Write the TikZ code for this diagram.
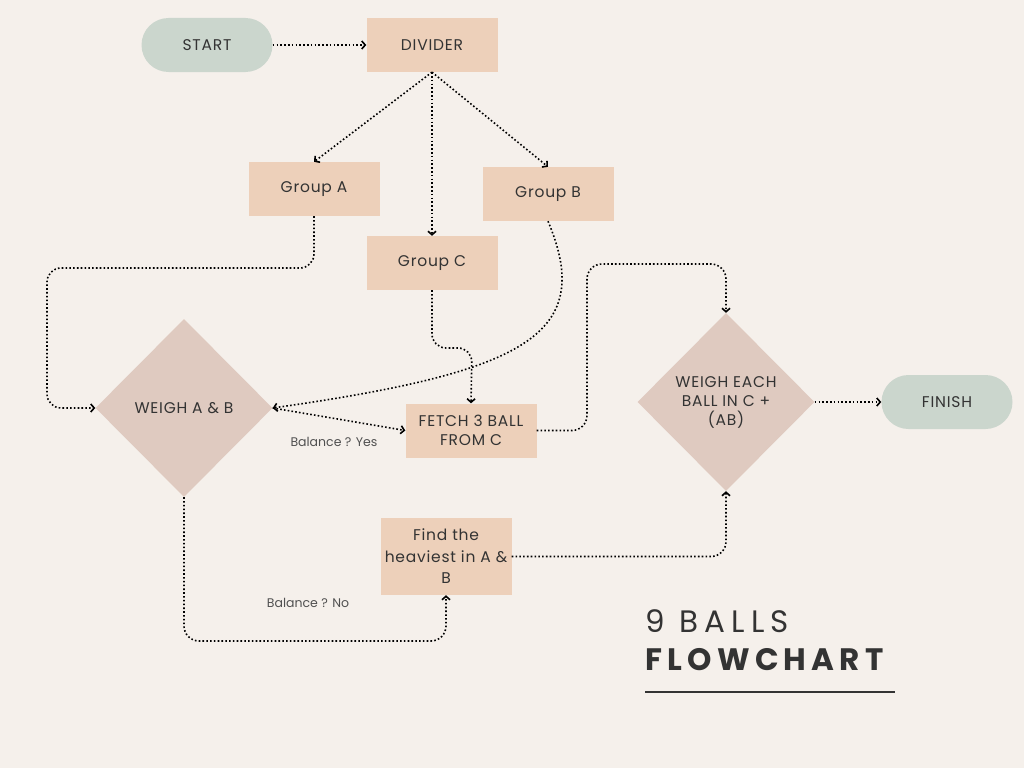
\documentclass[tikz,border=0pt]{standalone}
\usepackage{fontspec}
\setmainfont{Poppins}[LetterSpace=5]
\newfontfamily\titlefontA[LetterSpace=20]{Poppins}
\newfontfamily\titlefontB[LetterSpace=17]{Poppins}
\usetikzlibrary{shapes.geometric,arrows.meta}
\definecolor{bg}{HTML}{F5F0EB}
\definecolor{peach}{HTML}{EDD0BA}
\definecolor{sage}{HTML}{CBD6CD}
\definecolor{rose}{HTML}{DFCAC0}
\definecolor{ink}{HTML}{333333}
\definecolor{labelink}{HTML}{505050}
\tikzset{
  boxnode/.style={rectangle,fill=peach,minimum width=131pt,minimum height=54pt,inner sep=2pt,align=center,text=ink,font=\fontsize{15.5}{19}\selectfont},
  pillnode/.style={rectangle,rounded corners=27pt,fill=sage,minimum width=131pt,minimum height=54pt,align=center,text=ink,font=\fontsize{15.5}{19}\selectfont},
  decnode/.style={diamond,fill=rose,minimum width=177pt,minimum height=178pt,inner sep=0pt,align=center,text=ink,font=\fontsize{15.5}{19}\selectfont},
  flow/.style={draw=black,line width=1.6pt,dash pattern=on 1.6pt off 2.2pt,-{Straight Barb[length=3.5pt,width=8pt,line width=1.6pt]}},
  lbl/.style={text=labelink,font=\fontsize{12.5}{15}\addfontfeature{LetterSpace=0}\selectfont}
}
\begin{document}
\begin{tikzpicture}[x=1pt,y=-1pt]
\useasboundingbox (0,0) rectangle (1024,768);
\fill[bg] (0,0) rectangle (1024,768);

\node[pillnode] (start) at (207,45) {START};
\node[boxnode] (div) at (432,45) {DIVIDER};
\node[boxnode] (ga) at (314,189) {Group A};
\node[boxnode] (gb) at (548,194) {Group B};
\node[boxnode] (gc) at (432,263) {Group C};
\node[boxnode] (fetch) at (471,430.5) {FETCH 3 BALL\\FROM C};
\node[decnode] (wab) at (184,408) {WEIGH A \& B};
\node[decnode] (we) at (726,402) {WEIGH EACH\\BALL IN C +\\(AB)};
\node[pillnode] (fin) at (947,402) {FINISH};
\node[boxnode,minimum height=77pt,font=\fontsize{15.5}{21.5}\selectfont] (find) at (446,556.5) {Find the\\heaviest in A \&\\B};

\node[lbl] (yes) at (334,442) {Balance ? Yes};
\node[lbl] (no) at (308,603) {Balance ? No};

\node[anchor=base west,inner sep=0pt,text=ink,font=\fontsize{31}{36}\selectfont] (t1) at (645,632) {\titlefontA 9 BALLS};
\node[anchor=base west,inner sep=0pt,text=ink,font=\fontsize{31}{36}\selectfont] (t2) at (645,670) {\titlefontB\bfseries FLOWCHART};
\coordinate (ulA) at (645,692);
\coordinate (ulB) at (895,692);
\draw[line width=1.4pt,ink] (ulA) -- (ulB);

% connectors
\draw[flow] (start.east) -- (div.west);
\draw[flow] (div.south) -- (ga.north);
\draw[flow] (div.south) -- (gb.north);
\draw[flow] (div.south) -- (gc.north);
\draw[flow,rounded corners=14pt] (ga.south) |- (47,268) |- (wab.west);
\draw[flow] (gb.south) .. controls (596,335) and (525,372) .. (wab.east);
\draw[flow,rounded corners=14pt] (gc.south) -- (432,348) -- (472,348) -- (fetch.north);
\draw[flow] (wab.east) -- (fetch.west);
\draw[flow,rounded corners=15pt] (fetch.east) -| (587,264) -| (we.north);
\draw[flow] (we.east) -- (fin.west);
\draw[flow,rounded corners=15pt] (wab.south) |- (446,641) -- (find.south);
\draw[flow,rounded corners=15pt] (find.east) -| (we.south);
\end{tikzpicture}
\end{document}
